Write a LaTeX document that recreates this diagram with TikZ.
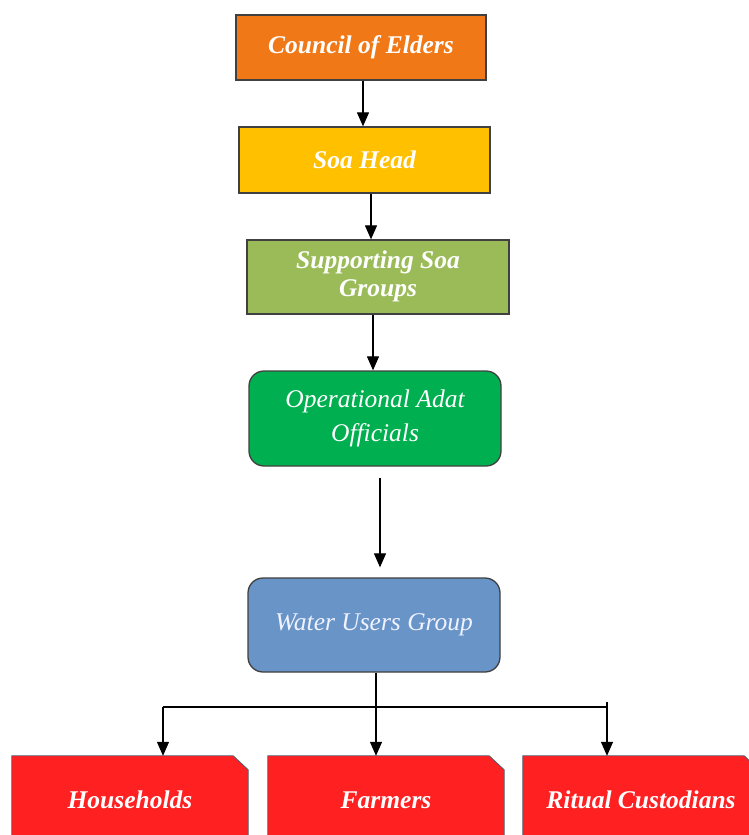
\documentclass[tikz,border=0pt]{standalone}
\usepackage{fontspec}
\setmainfont{Liberation Serif}
\usetikzlibrary{arrows.meta,calc,backgrounds}
\definecolor{corange}{RGB}{240,120,22}
\definecolor{cyellow}{RGB}{255,192,0}
\definecolor{colive}{RGB}{155,187,89}
\definecolor{cgreen}{RGB}{0,176,80}
\definecolor{cblue}{RGB}{104,148,199}
\definecolor{cred}{RGB}{255,32,34}
\definecolor{cborder}{RGB}{64,64,64}
\definecolor{credborder}{RGB}{80,90,110}
\definecolor{clighttext}{RGB}{240,242,255}
\begin{document}
\begin{tikzpicture}[x=1pt,y=-1pt,
  box/.style={draw=cborder,line width=1.3pt,text=white,align=center,inner sep=0pt,
    font=\fontsize{25.5}{28}\selectfont\bfseries\itshape},
  rbox/.style={box,rounded corners=15pt,font=\fontsize{25.5}{34}\selectfont\itshape},
  leaf/.style={draw=none,text=white,align=center,inner sep=0pt,minimum width=236pt,minimum height=88pt,
    font=\fontsize{25.5}{28}\selectfont\bfseries\itshape},
  arr/.style={line width=1.2pt,-{Triangle[width=12pt,length=14pt]}},
  ln/.style={line width=1.2pt}]
\useasboundingbox (0,0) rectangle (749,835);

\node[box,fill=corange,minimum width=250pt,minimum height=65pt] (c) at (361,47.5) {Council of Elders};
\node[box,fill=cyellow,minimum width=251pt,minimum height=66pt] (s) at (364.5,160) {Soa Head};
\node[box,fill=colive,minimum width=262pt,minimum height=74pt] (g) at (378,277)
  {\raisebox{-4pt}{\begin{tabular}{@{}c@{}}Supporting Soa\\Groups\end{tabular}}};
\node[rbox,fill=cgreen,minimum width=252pt,minimum height=95pt] (o) at (375,418.5) {Operational Adat\\Officials};
\node[rbox,fill=cblue,text=clighttext,minimum width=252pt,minimum height=94pt] (w) at (374,625) {Water Users Group};

\node[leaf] (h) at (130,800) {Households};
\node[leaf] (f) at (386,800) {Farmers};
\node[leaf] (r) at (641,800) {Ritual Custodians};

\begin{scope}[on background layer]
  \fill[white] (0,0) rectangle (749,835);
  \foreach \n in {h,f,r}{
    \filldraw[fill=cred,draw=credborder,line width=0.8pt]
      (\n.south west) -- (\n.north west) -- ($(\n.north east)+(-15,0)$)
      -- ($(\n.north east)+(0,14)$) -- (\n.south east) -- cycle;
  }
\end{scope}

\coordinate (x1) at (363,0);
\coordinate (x2) at (371,0);
\coordinate (x3) at (373,0);
\coordinate (x4) at (380,0);
\coordinate (x5) at (376,0);
\coordinate (jl) at (163,707);
\coordinate (jr) at (607,707);
\coordinate (jrt) at (607,702);

\draw[arr] (c.south -| x1) -- (s.north -| x1);
\draw[arr] (s.south -| x2) -- (g.north -| x2);
\draw[arr] (g.south -| x3) -- (o.north -| x3);
\draw[arr,shorten <=11pt,shorten >=10pt] (o.south -| x4) -- (w.north -| x4);
\draw[arr] (w.south -| x5) -- (f.north -| x5);
\draw[ln] (jl) -- (jr);
\draw[arr] (jl) -- (h.north -| jl);
\draw[arr] (jrt) -- (r.north -| jrt);
\end{tikzpicture}
\end{document}
